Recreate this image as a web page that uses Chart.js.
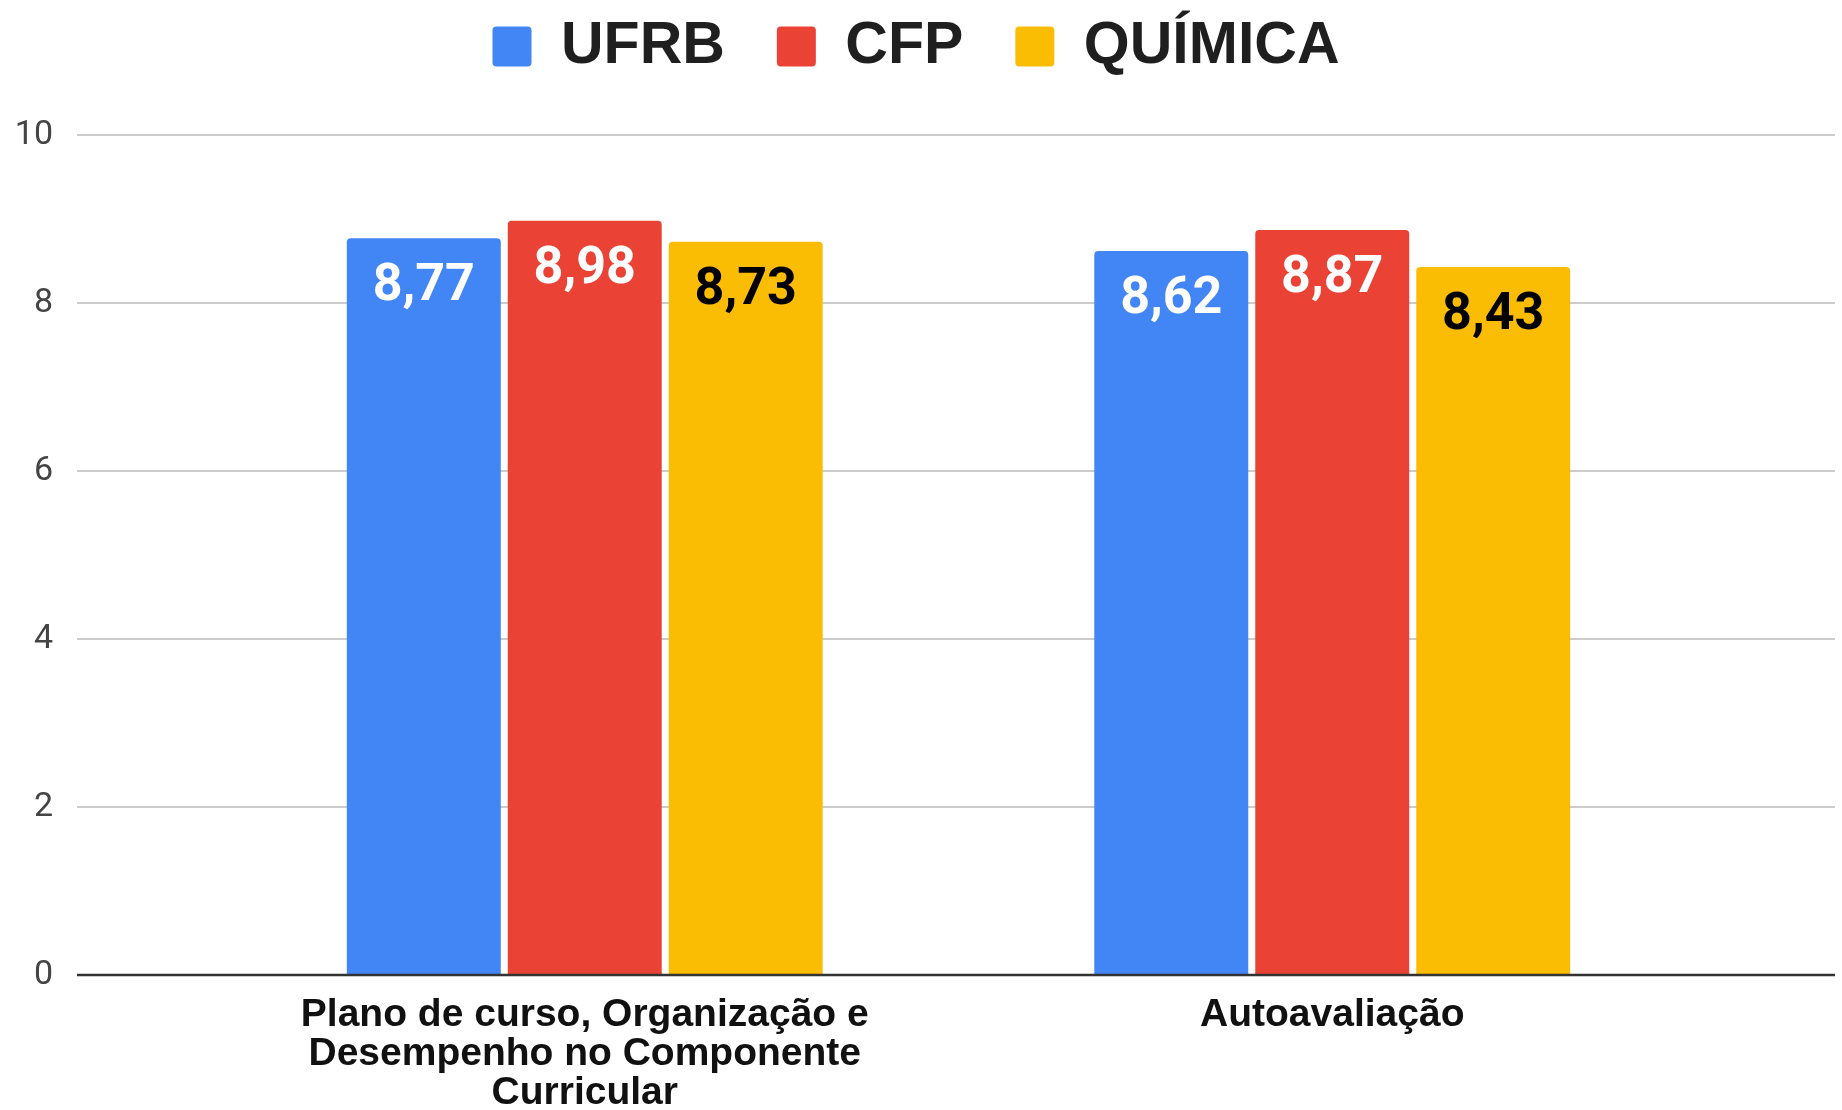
<!DOCTYPE html>
<html>
<head>
<meta charset="utf-8">
<script src="https://cdn.jsdelivr.net/npm/chart.js@4.4.1/dist/chart.umd.min.js"></script>
<style>
  html, body { margin: 0; padding: 0; background: #fff; }
  #wrap { width: 1842px; height: 1110px; }
</style>
</head>
<body>
<div id="wrap"><canvas id="chart" width="1842" height="1110"></canvas></div>
<script>
/* grouped bar chart — UFRB / CFP / QUÍMICA */

const categories = [
  ['Plano de curso, Organização e', 'Desempenho no Componente', 'Curricular'],
  'Autoavaliação'
];
const seriesNames = ['UFRB', 'CFP', 'QUÍMICA'];
const ufrbValues = [8.77, 8.62];
const cfpValues = [8.98, 8.87];
const quimicaValues = [8.73, 8.43];
const yTicks = [0, 2, 4, 6, 8, 10];

const colors = ['#4285F4', '#EA4335', '#FBBC04'];
const labelColors = ['#ffffff', '#ffffff', '#000000'];

const fmt = (v) => v.toFixed(2).replace('.', ',');

// gridlines run wider than the category area, like the original
const wideGrid = {
  id: 'wideGrid',
  beforeDatasetsDraw(chart) {
    const {ctx, chartArea} = chart;
    const y = chart.scales.y;
    ctx.save();
    ctx.strokeStyle = '#cccccc';
    ctx.lineWidth = 2;
    yTicks.forEach(v => {
      if (v === 0) return;
      const py = Math.round(y.getPixelForValue(v));
      ctx.beginPath();
      ctx.moveTo(chartArea.left - 134, py);
      ctx.lineTo(chartArea.right + 129, py);
      ctx.stroke();
    });
    ctx.restore();
  },
  afterDatasetsDraw(chart) {
    const {ctx, chartArea} = chart;
    const py = chart.scales.y.getPixelForValue(0);
    ctx.save();
    ctx.strokeStyle = '#333333';
    ctx.lineWidth = 2.5;
    ctx.beginPath();
    ctx.moveTo(chartArea.left - 134, py);
    ctx.lineTo(chartArea.right + 129, py);
    ctx.stroke();
    ctx.restore();
  }
};

const barLabels = {
  id: 'barLabels',
  afterDatasetsDraw(chart) {
    const ctx = chart.ctx;
    ctx.save();
    ctx.font = 'bold 52px Roboto';
    ctx.textAlign = 'center';
    ctx.textBaseline = 'alphabetic';
    chart.data.datasets.forEach((ds, i) => {
      ctx.fillStyle = labelColors[i];
      chart.getDatasetMeta(i).data.forEach((bar, j) => {
        ctx.fillText(fmt(ds.data[j]), bar.x, bar.y + 62);
      });
    });
    ctx.restore();
  }
};

const legendBox = {
  id: 'legendBox',
  beforeInit(chart) {
    const fit = chart.legend.fit;
    chart.legend.fit = function () { fit.call(this); this.height = 135; };
  },
  afterLayout(chart) {
    chart.legend.top = -35;
    chart.legend.left = -10;
  }
};

const datasets = [ufrbValues, cfpValues, quimicaValues].map((data, i) => ({
  label: seriesNames[i],
  data,
  backgroundColor: colors[i],
  borderRadius: 4,
  borderSkipped: 'start',
  categoryPercentage: 0.646,
  barPercentage: 0.9565,
}));

new Chart(document.getElementById('chart').getContext('2d'), {
  type: 'bar',
  data: {labels: categories, datasets},
  options: {
    responsive: false,
    animation: false,
    layout: {padding: 0},
    plugins: {
      legend: {
        position: 'top',
        labels: {
          font: {family: 'Liberation Sans', weight: 'bold', size: 59},
          color: '#1f1f1f',
          boxWidth: 39,
          boxHeight: 40,
          padding: 52,
          useBorderRadius: true,
          borderRadius: 4,
        },
      },
      tooltip: {enabled: false},
    },
    scales: {
      x: {
        offset: true,
        grid: {display: false, drawTicks: false},
        border: {display: false},
        ticks: {
          autoSkip: false,
          maxRotation: 0,
          padding: 21,
          color: '#111111',
          font: {family: 'Liberation Sans', weight: 'bold', size: 39, lineHeight: 1.0},
        },
        afterFit: (s) => { s.height = 135; },
      },
      y: {
        min: 0,
        max: 10,
        grid: {display: true, drawOnChartArea: false, drawTicks: true, tickLength: 134, color: 'rgba(0,0,0,0)'},
        border: {display: false},
        ticks: {
          padding: 24,
          color: '#444444',
          font: {family: 'Roboto', size: 34},
        },
        afterBuildTicks: (s) => { s.ticks = yTicks.map(v => ({value: v})); },
        afterFit: (s) => { s.width = 211; },
      },
      y2: {
        position: 'right',
        grid: {display: false, drawTicks: false},
        border: {display: false},
        ticks: {display: false},
        afterFit: (s) => { s.width = 136; },
      },
    },
  },
  plugins: [legendBox, wideGrid, barLabels],
});
</script>
</body>
</html>
